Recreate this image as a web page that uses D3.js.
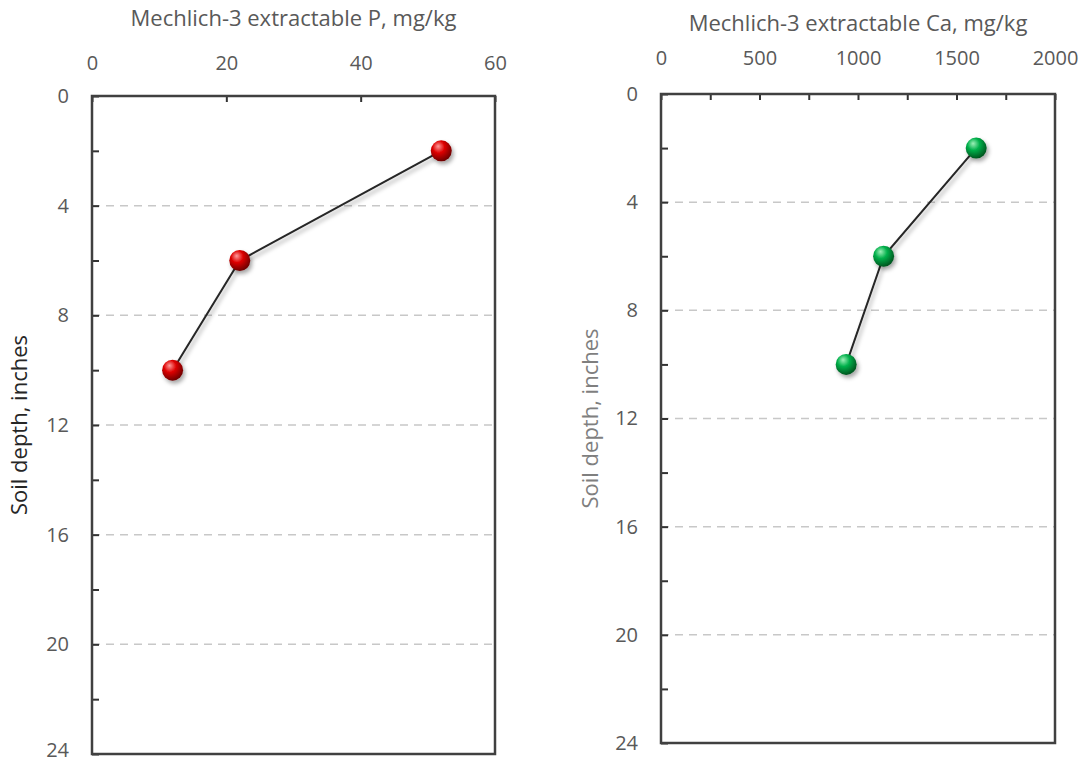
<!DOCTYPE html>
<html>
<head>
<meta charset="utf-8">
<script src="https://cdn.jsdelivr.net/npm/d3@7"></script>
<style>
  body { margin: 0; background: #fff; }
  text { font-family: "Open Sans", sans-serif; }
</style>
</head>
<body>
<div id="chart"></div>
<script>
// data
const depths = [2, 6, 10];
const pValues = [52, 22, 12];
const caValues = [1600, 1130, 940];

const depthTicks = [0, 2, 4, 6, 8, 10, 12, 14, 16, 18, 20, 22, 24];
const depthLabels = [0, 4, 8, 12, 16, 20, 24];
const gridDepths = [4, 8, 12, 16, 20];
const pTicks = [0, 20, 40, 60];
const caTicks = [0, 250, 500, 750, 1000, 1250, 1500, 1750, 2000];
const caLabels = [0, 500, 1000, 1500, 2000];

const width = 1087;
const height = 765;

const svg = d3.select('#chart')
    .append('svg')
    .attr('width', width)
    .attr('height', height);

const defs = svg.append('defs');

// soft drop shadow for the line and the balls
const shadow = defs.append('filter')
    .attr('id', 'shadow')
    .attr('x', '-50%').attr('y', '-50%')
    .attr('width', '200%').attr('height', '200%');
shadow.append('feDropShadow')
    .attr('dx', 2).attr('dy', 3)
    .attr('stdDeviation', 2.2)
    .attr('flood-color', '#000')
    .attr('flood-opacity', 0.35);

// sphere gradients
function ballGradient(id, light, mid, dark) {
    const g = defs.append('radialGradient')
        .attr('id', id)
        .attr('cx', '40%').attr('cy', '35%')
        .attr('r', '65%')
        .attr('fx', '35%').attr('fy', '28%');
    g.append('stop').attr('offset', '0%').attr('stop-color', light);
    g.append('stop').attr('offset', '45%').attr('stop-color', mid);
    g.append('stop').attr('offset', '100%').attr('stop-color', dark);
}
ballGradient('ballRed', '#ff9a9a', '#dd0000', '#6e0000');
ballGradient('ballGreen', '#9df0b8', '#00b04a', '#00551f');

function drawPanel(opt) {
    const g = svg.append('g');
    const innerW = opt.right - opt.left;
    const innerH = opt.bottom - opt.top;

    const x = d3.scaleLinear().domain(opt.xDomain).range([opt.left, opt.right]);
    const y = d3.scaleLinear().domain([0, 24]).range([opt.top, opt.bottom]);

    // dashed grid
    g.selectAll('.grid')
        .data(gridDepths)
        .enter()
        .append('line')
        .attr('x1', opt.left)
        .attr('x2', opt.right)
        .attr('y1', d => y(d))
        .attr('y2', d => y(d))
        .attr('stroke', '#c8c8c8')
        .attr('stroke-width', 1.5)
        .attr('stroke-dasharray', '8,6');

    // top x axis, ticks pointing inward
    const xAxis = g.append('g')
        .attr('transform', `translate(0,${opt.top})`)
        .call(d3.axisTop(x)
            .tickValues(opt.xTicks)
            .tickSizeInner(-6)
            .tickSizeOuter(0)
            .tickPadding(opt.xLabelPad)
            .tickFormat(d => opt.xLabels.includes(d) ? d : ''));
    xAxis.select('.domain').remove();
    xAxis.selectAll('line').attr('stroke', '#333').attr('stroke-width', 2);
    xAxis.selectAll('text')
        .style('font-family', '"Open Sans", sans-serif')
        .style('font-size', '20px')
        .attr('fill', '#595959');

    // left y axis
    const yAxis = g.append('g')
        .attr('transform', `translate(${opt.left},0)`)
        .call(d3.axisLeft(y)
            .tickValues(depthTicks)
            .tickSizeInner(-7)
            .tickSizeOuter(0)
            .tickPadding(23)
            .tickFormat(d => depthLabels.includes(d) ? d : ''));
    yAxis.select('.domain').remove();
    yAxis.selectAll('line').attr('stroke', '#333').attr('stroke-width', 2);
    yAxis.selectAll('text')
        .style('font-family', '"Open Sans", sans-serif')
        .style('font-size', '20px')
        .attr('fill', '#595959')
        .attr('dy', d => d === 24 ? opt.lastDy : '0.32em');

    // plot frame
    g.append('rect')
        .attr('x', opt.left)
        .attr('y', opt.top)
        .attr('width', innerW)
        .attr('height', innerH)
        .attr('fill', 'none')
        .attr('stroke', '#404040')
        .attr('stroke-width', 2.5);

    // title above the axis
    g.append('text')
        .attr('x', opt.left + innerW / 2)
        .attr('y', opt.titleY)
        .attr('text-anchor', 'middle')
        .style('font-size', '22px')
        .attr('fill', '#595959')
        .text(opt.title);

    // y axis title
    g.append('text')
        .attr('transform', `translate(${opt.yTitleX},${opt.top + innerH / 2}) rotate(-90)`)
        .attr('text-anchor', 'middle')
        .style('font-size', '22px')
        .attr('fill', opt.yTitleColor)
        .text('Soil depth, inches');

    const pts = depths.map((d, i) => ({ depth: d, value: opt.values[i] }));

    const line = d3.line()
        .x(d => x(d.value))
        .y(d => y(d.depth));

    g.append('path')
        .datum(pts)
        .attr('d', line)
        .attr('fill', 'none')
        .attr('stroke', '#262626')
        .attr('stroke-width', 2)
        .attr('filter', 'url(#shadow)');

    g.selectAll('.ball')
        .data(pts)
        .enter()
        .append('circle')
        .attr('cx', d => x(d.value))
        .attr('cy', d => y(d.depth))
        .attr('r', 10.5)
        .attr('fill', `url(#${opt.ball})`)
        .attr('filter', 'url(#shadow)');
}

drawPanel({
    left: 92, right: 495, top: 96, bottom: 754,
    xDomain: [0, 60],
    xTicks: pTicks,
    xLabels: pTicks,
    xLabelPad: 26,
    values: pValues,
    title: 'Mechlich-3 extractable P, mg/kg',
    titleY: 26,
    yTitleX: 27,
    yTitleColor: '#262626',
    lastDy: '0.12em',
    ball: 'ballRed'
});

drawPanel({
    left: 661, right: 1055, top: 94, bottom: 743,
    xDomain: [0, 2000],
    xTicks: caTicks,
    xLabels: caLabels,
    xLabelPad: 29,
    values: caValues,
    title: 'Mechlich-3 extractable Ca, mg/kg',
    titleY: 31,
    yTitleX: 598,
    yTitleColor: '#7f7f7f',
    lastDy: '0.32em',
    ball: 'ballGreen'
});
</script>
</body>
</html>
